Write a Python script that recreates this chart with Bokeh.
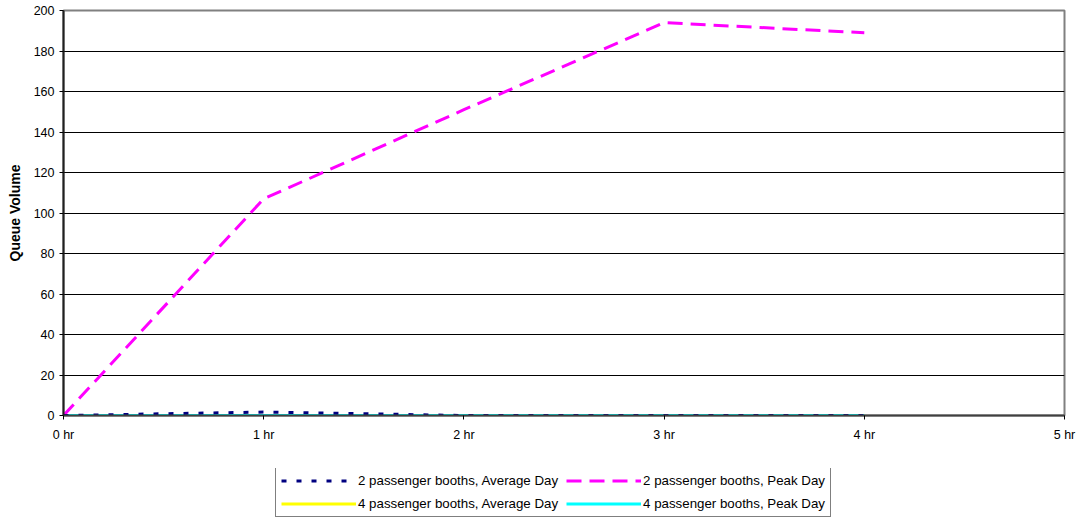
from bokeh.plotting import figure
from bokeh.layouts import column
from bokeh.models import FixedTicker, Legend, LegendItem, Range1d
from bokeh.embed import file_html
from bokeh.resources import INLINE

# Queue volume by elapsed time (hours)
hours = [0, 1, 2, 3, 4]
booths2_average = [0, 1.7, 0, 0, 0]
booths2_peak = [0, 107, 151, 194, 189]
booths4_average = [0, 0, 0, 0, 0]
booths4_peak = [0, 0, 0, 0, 0]

x_ticks = [0, 1, 2, 3, 4, 5]
x_tick_labels = ["0 hr", "1 hr", "2 hr", "3 hr", "4 hr", "5 hr"]
y_ticks = [0, 20, 40, 60, 80, 100, 120, 140, 160, 180, 200]

series_names = [
    "2 passenger booths, Average Day",
    "2 passenger booths, Peak Day",
    "4 passenger booths, Average Day",
    "4 passenger booths, Peak Day",
]

FONT = "Liberation Sans"

# line styles per series: (colour, dash)
STYLES = [
    ("#000080", "5 10"),
    ("#FF00FF", "15 8"),
    ("#FFFF00", "solid"),
    ("#00FFFF", "solid"),
]

p = figure(
    width=1082, height=468,
    output_backend="svg", toolbar_location=None,
    x_range=Range1d(0, 5), y_range=Range1d(0, 200),
    min_border_left=63, min_border_right=18,
    min_border_top=10, min_border_bottom=53,
)
p.background_fill_color = "white"
p.border_fill_color = "white"
p.outline_line_color = "#808080"
p.outline_line_width = 2

# axes
p.xaxis.ticker = FixedTicker(ticks=x_ticks)
p.xaxis.major_label_overrides = {t: lab for t, lab in zip(x_ticks, x_tick_labels)}
p.yaxis.ticker = FixedTicker(ticks=y_ticks)
for ax in (p.xaxis[0], p.yaxis[0]):
    ax.major_label_text_font = FONT
    ax.major_label_text_font_size = "12.5px"
    ax.major_label_text_color = "black"
    ax.minor_tick_line_color = None
    ax.major_tick_in = 0
    ax.major_tick_out = 4
    ax.major_tick_line_color = "black"
p.xaxis.axis_line_color = "#404040"
p.xaxis.axis_line_width = 2
p.xaxis.major_label_standoff = 8
p.yaxis.axis_line_color = "#202020"
p.yaxis.axis_line_width = 2
p.yaxis.major_label_standoff = 5
p.yaxis.axis_label = "Queue Volume"
p.yaxis.axis_label_text_font = FONT
p.yaxis.axis_label_text_font_size = "14px"
p.yaxis.axis_label_text_font_style = "bold"
p.yaxis.axis_label_text_color = "black"
p.yaxis.axis_label_standoff = 8

p.xgrid.grid_line_color = None
p.ygrid.grid_line_color = "black"
p.ygrid.grid_line_width = 1

# series (4-booth lines first so the 2-booth lines sit on top)
p.line(hours, booths4_average, line_color=STYLES[2][0], line_width=3)
p.line(hours, booths4_peak, line_color=STYLES[3][0], line_width=3)
p.line(hours, booths2_peak, line_color=STYLES[1][0], line_width=3,
       line_dash=STYLES[1][1])
p.line(hours, booths2_average, line_color=STYLES[0][0], line_width=3,
       line_dash=STYLES[0][1])

# legend strip underneath the chart (frame aligned with the chart's frame)
lg = figure(
    width=1082, height=49,
    output_backend="svg", toolbar_location=None,
    x_range=Range1d(0, 1), y_range=Range1d(0, 1),
    x_axis_location=None, y_axis_location=None,
    min_border=0,
)
lg.outline_line_color = None
lg.grid.grid_line_color = None
lg.border_fill_color = "white"
lg.background_fill_color = "white"

# proxy renderers for the legend swatches, kept outside the visible range
renderers = []
for color, dash in STYLES:
    renderers.append(lg.line([-5, -4], [-5, -4], line_color=color,
                             line_width=3, line_dash=dash))

# row-major order in a two-column legend
order = [0, 2, 1, 3]
items = [LegendItem(label=series_names[i], renderers=[renderers[i]]) for i in order]

legend = Legend(
    items=items,
    ncols=2,
    location=(212, 0),
    label_text_font=FONT,
    label_text_font_size="13.3px",
    label_text_color="black",
    glyph_width=75,
    glyph_height=15,
    label_standoff=2,
    label_height=15,
    spacing=8,
    padding=5,
    margin=0,
    border_line_color="black",
    border_line_width=1,
    background_fill_color="white",
    background_fill_alpha=1,
)
lg.add_layout(legend, "center")

layout = column(p, lg, spacing=0)
open("out.html", "w").write(file_html(layout, INLINE))
